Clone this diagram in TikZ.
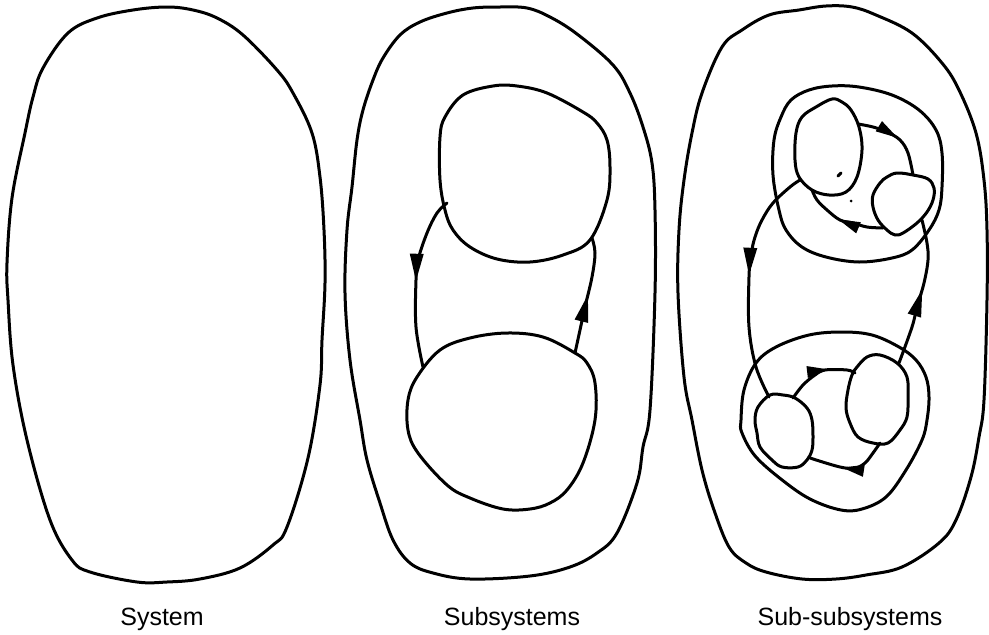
\documentclass[tikz,border=0pt]{standalone}
\usepackage{fontspec}
\setmainfont{Liberation Sans}
\usetikzlibrary{decorations.markings}
\tikzset{
  line/.style={line width=3pt, line join=round, line cap=round},
  bighead/.style={postaction={decorate}, decoration={markings, mark=at position #1 with {\fill (3pt,0pt) -- (-24pt,7pt) -- (-24pt,-7pt) -- cycle;}}},
  smallhead/.style={postaction={decorate}, decoration={markings, mark=at position #1 with {\fill (3pt,0pt) -- (-19pt,6pt) -- (-19pt,-6pt) -- cycle;}}},
  caption/.style={anchor=base, font=\fontsize{25}{30}\selectfont, inner sep=0pt}
}
\begin{document}
\begin{tikzpicture}[x=1pt, y=-1pt]
\useasboundingbox (0,0) rectangle (989,635);
% ---------- Panel 1 ----------
\draw[line] plot[smooth cycle, tension=0.6] coordinates {(167,7) (193,10) (217,18) (243,35) (277,70) (293,93) (312,133) (320,177) (324,230) (325,283) (322,340) (320,385) (308,458) (287,527) (273,545) (240,568) (200,579) (167,582) (137,582) (90,572) (72,560) (50,520) (27,440) (13,365) (8,300) (7,263) (12,198) (25,133) (33,97) (43,68) (68,33) (97,18) (133,10)};
\node[caption] (l1) at (162,625) {System};
% ---------- Panel 2 ----------
\draw[line] plot[smooth cycle, tension=0.6] coordinates {(500,7) (527,8) (550,17) (577,34) (613,65) (630,93) (643,127) (652,163) (655,210) (655,293) (650,410) (643,447) (637,483) (617,533) (597,553) (570,567) (530,576) (470,579) (433,573) (410,563) (393,540) (380,503) (367,460) (360,420) (350,360) (345,293) (347,230) (352,187) (357,140) (363,110) (373,80) (383,58) (400,35) (420,22) (447,13) (473,8)};
\draw[line] plot[smooth cycle, tension=0.6] coordinates {(493,86) (517,86) (547,93) (583,112) (597,123) (607,140) (610,167) (607,200) (590,240) (563,255) (530,262) (497,259) (470,247) (453,230) (445,210) (440,180) (440,137) (445,117) (463,95)};
\draw[line] plot[smooth cycle, tension=0.6] coordinates {(507,333) (543,337) (575,353) (587,363) (595,383) (595,420) (583,463) (567,490) (550,503) (530,509) (503,509) (470,498) (447,485) (418,453) (408,430) (408,400) (417,377) (440,350) (470,338)};
\draw[line, bighead=0.48] plot[smooth, tension=0.6] coordinates {(447,203) (437,213) (427,233) (418,260) (416,280) (416,327) (423,367)};
\draw[line, bighead=0.48] plot[smooth, tension=0.6] coordinates {(575,353) (580,330) (585,307) (592,277) (595,253) (592,238)};
\node[caption] (l2) at (512,625) {Subsystems};
% ---------- Panel 3 ----------
\draw[line] plot[smooth cycle, tension=0.6] coordinates {(826,6) (852,7) (876,15) (912,33) (942,63) (959,90) (976,133) (984,180) (987,230) (987,300) (984,400) (979,437) (971,477) (956,520) (939,543) (902,567) (866,575) (836,579) (802,579) (766,572) (746,563) (729,547) (714,510) (702,470) (692,420) (684,377) (678,293) (679,230) (684,180) (692,133) (702,93) (722,47) (742,30) (769,15) (799,10)};
% upper ring
\draw[line] plot[smooth cycle, tension=0.6] coordinates {(832,86) (859,87) (892,95) (919,110) (936,130) (942,153) (942,187) (939,210) (929,230) (912,250) (892,258) (859,262) (826,257) (802,247) (786,230) (779,210) (773,175) (774,140) (781,117) (791,100) (809,90)};
% lower ring
\draw[line] plot[smooth cycle, tension=0.6] coordinates {(809,335) (842,332) (872,335) (899,347) (916,360) (926,377) (929,397) (927,420) (922,440) (906,470) (886,497) (862,509) (841,510) (812,500) (786,483) (756,457) (742,433) (741,420) (744,390) (756,363) (776,347)};
% upper small A
\draw[line] plot[smooth cycle, tension=0.6] coordinates {(832,99) (816,107) (802,117) (796,133) (795,160) (799,177) (812,190) (829,195) (846,192) (857,177) (862,150) (859,127) (851,110) (842,102)};
% upper small B
\draw[line] plot[smooth cycle, tension=0.6] coordinates {(897,173) (913,175) (928,179) (934,188) (933,200) (927,212) (917,223) (903,233) (895,235) (887,230) (878,220) (873,207) (873,195) (880,183) (887,177)};
% lower small C
\draw[line] plot[smooth cycle, tension=0.6] coordinates {(770,395) (783,395) (795,398) (807,408) (812,420) (813,437) (812,450) (807,460) (798,467) (782,467) (772,460) (760,447) (757,433) (755,420) (758,407)};
% lower small D
\draw[line] plot[smooth cycle, tension=0.6] coordinates {(867,357) (880,355) (897,363) (907,377) (908,397) (907,417) (900,430) (888,443) (873,443) (858,437) (850,423) (846,408) (848,390) (852,375) (857,367)};
% marks in A
\draw[line] (838,176) -- (841,173);
\fill (851,201) circle (1.5pt);
% arrows
\draw[line, bighead=0.46] plot[smooth, tension=0.6] coordinates {(800,180) (790,187) (773,203) (762,220) (755,237) (751,255) (749,277) (749,327) (756,367) (769,397)};
\draw[line, bighead=0.5] plot[smooth, tension=0.6] coordinates {(899,363) (912,327) (917,307) (924,283) (928,260) (927,243) (922,220)};
\draw[line, smallhead=0.47] plot[smooth, tension=0.6] coordinates {(858,124) (873,127) (887,132) (900,140) (908,153) (913,175)};
\draw[line, smallhead=0.5] plot[smooth, tension=0.6] coordinates {(883,228) (867,227) (853,223) (840,220) (827,210) (817,200) (812,190)};
\draw[line, smallhead=0.6] plot[smooth, tension=0.6] coordinates {(793,398) (803,385) (815,375) (825,370) (847,370) (855,373)};
\draw[line, smallhead=0.56] plot[smooth, tension=0.6] coordinates {(880,443) (873,453) (865,463) (855,468) (840,467) (810,458)};
\node[caption] (l3) at (850,625) {Sub-subsystems};
\end{tikzpicture}
\end{document}
